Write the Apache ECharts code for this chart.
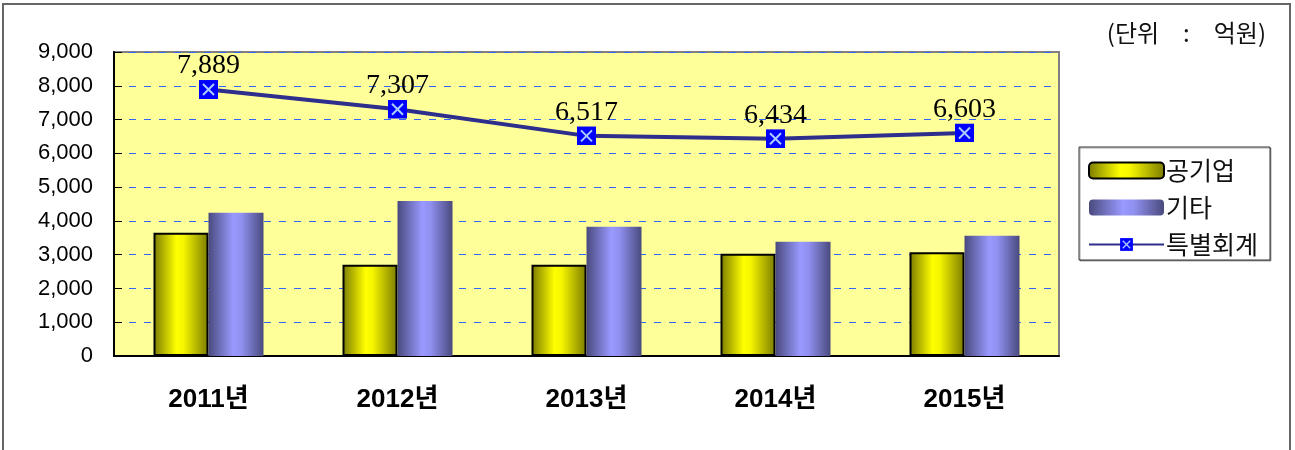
<!DOCTYPE html>
<html>
<head>
<meta charset="utf-8">
<script src="https://cdn.jsdelivr.net/npm/echarts@6/dist/echarts.min.js"></script>
<style>
  html, body { margin: 0; padding: 0; background: #fff; }
  #chart { width: 1295px; height: 450px; }
</style>
</head>
<body>
<div id="chart"></div>
<script>
const years = ["2011년", "2012년", "2013년", "2014년", "2015년"];
const publicCorp = [3650, 2700, 2700, 3030, 3075];
const others = [4240, 4590, 3825, 3380, 3560];
const special = [7889, 7307, 6517, 6434, 6603];

// 파란 사각형 + 하늘색 X 마커
const markerSvg =
  "<svg xmlns='http://www.w3.org/2000/svg' width='19' height='19'>" +
  "<rect width='19' height='19' fill='#0000ff'/>" +
  "<path d='M4 4L15 15M15 4L4 15' stroke='#a8ccff' stroke-width='2'/></svg>";
const marker = "image://data:image/svg+xml;charset=utf-8," + encodeURIComponent(markerSvg);

const yellowGrad = new echarts.graphic.LinearGradient(0, 0, 1, 0, [
  { offset: 0, color: "#7a7a00" },
  { offset: 0.42, color: "#ffff00" },
  { offset: 0.55, color: "#f5f500" },
  { offset: 1, color: "#7a7a00" }
]);
const purpleGrad = new echarts.graphic.LinearGradient(0, 0, 1, 0, [
  { offset: 0, color: "#4a4a7e" },
  { offset: 0.45, color: "#9999ff" },
  { offset: 0.6, color: "#9090f0" },
  { offset: 1, color: "#4a4a7e" }
]);

const chart = echarts.init(document.getElementById("chart"));
chart.setOption({
  animation: false,
  title: {
    text: "(단위\u3000:\u3000억원)",
    right: 24,
    top: 16,
    textStyle: { fontFamily: "Noto Sans CJK KR", fontWeight: "normal", fontSize: 24, color: "#111" }
  },
  graphic: [
    {
      type: "rect",
      shape: { x: 3, y: 4, width: 1287, height: 470 },
      style: { fill: "none", stroke: "#666", lineWidth: 2 },
      silent: true
    }
  ],
  legend: {
    orient: "vertical",
    left: 1079,
    top: 147,
    padding: [10, 12, 2, 9],
    itemGap: 10,
    itemWidth: 75,
    itemHeight: 16,
    backgroundColor: "#fff",
    borderColor: "#333",
    borderWidth: 1,
    shadowColor: "rgba(0,0,0,0.35)",
    shadowOffsetX: 1,
    shadowOffsetY: 1,
    textStyle: { fontFamily: "Noto Sans CJK KR", fontSize: 25, lineHeight: 27, color: "#111", padding: [0, 0, 0, -3] },
    data: ["공기업", "기타", "특별회계"]
  },
  grid: {
    left: 114,
    top: 52,
    right: 236,
    bottom: 94,
    show: true,
    backgroundColor: "#ffff99",
    borderColor: "#808080",
    borderWidth: 2
  },
  xAxis: {
    type: "category",
    data: years,
    axisLine: { lineStyle: { color: "#000", width: 2 } },
    axisTick: { show: false },
    axisLabel: {
      margin: 31,
      fontFamily: "Liberation Sans, Noto Sans CJK KR",
      fontWeight: "bold",
      fontSize: 26,
      color: "#000"
    }
  },
  yAxis: {
    type: "value",
    min: 0,
    max: 9000,
    interval: 1000,
    axisLine: { show: true, lineStyle: { color: "#000", width: 2 } },
    axisTick: { show: true, inside: true, length: 8, lineStyle: { color: "#000" } },
    axisLabel: {
      margin: 21,
      fontFamily: "Liberation Sans",
      fontSize: 22,
      color: "#000",
      formatter: v => v.toLocaleString("en-US")
    },
    splitLine: { lineStyle: { color: "#3366ff", type: [7, 8], width: 1 } }
  },
  series: [
    {
      name: "공기업",
      type: "bar",
      data: publicCorp,
      barWidth: 55,
      barGap: "0%",
      itemStyle: { color: yellowGrad, borderColor: "#000", borderWidth: 2 }
    },
    {
      name: "기타",
      type: "bar",
      data: others,
      barWidth: 55,
      itemStyle: { color: purpleGrad }
    },
    {
      name: "특별회계",
      type: "line",
      data: special,
      symbol: marker,
      symbolSize: 19,
      lineStyle: { color: "#2e2e8c", width: 4 },
      itemStyle: { color: "#0000ff" },
      label: {
        show: true,
        position: "top",
        distance: 0,
        fontFamily: "Liberation Serif",
        fontSize: 28,
        color: "#000",
        formatter: p => p.value.toLocaleString("en-US")
      },
      z: 5
    }
  ]
});
</script>
</body>
</html>
